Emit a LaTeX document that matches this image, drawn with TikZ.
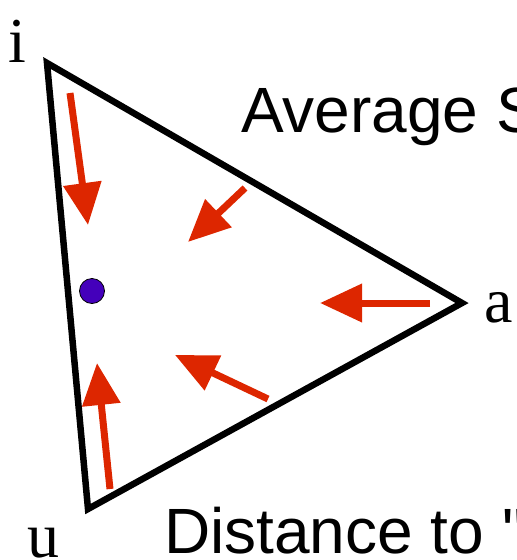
\documentclass[tikz,border=0pt]{standalone}
\usepackage{fontspec}
\setmainfont{Liberation Serif}
\setsansfont{Liberation Sans}[Ligatures=TeXOff]
\usetikzlibrary{arrows.meta}
\definecolor{pullred}{RGB}{221,38,0}
\definecolor{dotblue}{RGB}{68,0,187}
\tikzset{
  vertexlabel/.style={anchor=base west, inner sep=0pt, font=\fontsize{64}{64}\selectfont},
  caption/.style={anchor=base west, inner sep=0pt, font=\sffamily\fontsize{64}{64}\selectfont},
  pull/.style={pullred, line width=7pt, -{Triangle[length=42pt, width=37pt]}}
}
\begin{document}
\begin{tikzpicture}[x=1pt, y=-1pt]
  \useasboundingbox (0,0) rectangle (517,560);

  % Vertices of the triangle
  \coordinate (i) at (47,63);
  \coordinate (a) at (462,303);
  \coordinate (u) at (88,509);
  \draw[line width=6.5pt] (i) -- (a) -- (u) -- cycle;

  % Vertex labels
  \node[vertexlabel] (ilab) at (8,62) {i};
  \node[vertexlabel] (alab) at (484,322) {a};
  \node[vertexlabel] (ulab) at (27,557) {u};

  % Captions, cut off at the right edge
  \node[caption] (avg) at (241,132) {Average S};
  \node[caption] (dist) at (164,553) {Distance to "};

  % Arrows pulling toward the point
  \foreach \sx/\sy/\ex/\ey in {70/93/88/225, 245/188/188/242, 430/303/320/303,
                               268/399/175/355, 110/489/97/363}
    \draw[pull] (\sx,\sy) -- (\ex,\ey);

  % The point
  \filldraw[fill=dotblue, draw=black, line width=0.8pt] (92,291) circle (12.5pt);
\end{tikzpicture}
\end{document}
